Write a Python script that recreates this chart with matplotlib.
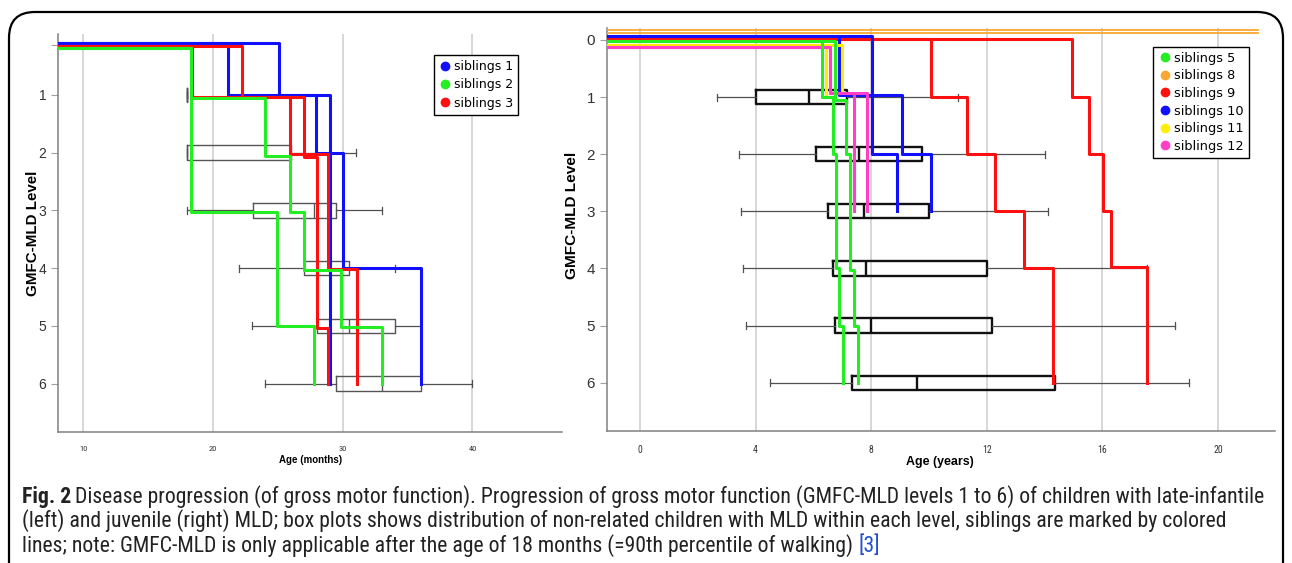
import matplotlib
matplotlib.use('Agg')
import matplotlib.pyplot as plt
from matplotlib.lines import Line2D
from matplotlib.patches import FancyBboxPatch
from matplotlib import font_manager
from matplotlib.font_manager import FontProperties

# ---------------- data ----------------
levels = [1, 2, 3, 4, 5, 6]

# left panel: late-infantile, age in months (box plots of non-related children)
m_lo  = [18, 18, 18, 22.0, 23.0, 24.0]
m_q1  = [18, 18, 23.05, 27.0, 28.0, 29.5]
m_med = [18, 18, 27.75, 29.0, 30.5, 33.0]
m_q3  = [18, 26.0, 29.5, 30.5, 34.0, 36.0]
m_hi  = [18, 31.0, 33.0, 34.0, 36.0, 40.0]

# right panel: juvenile, age in years
y_lo  = [2.68, 3.43, 3.5, 3.58, 3.66, 4.5]
y_q1  = [4.0, 6.08, 6.49, 6.67, 6.75, 7.34]
y_med = [5.84, 7.59, 7.76, 7.82, 8.0, 9.58]
y_q3  = [7.17, 9.76, 10.0, 12.0, 12.17, 14.35]
y_hi  = [11.0, 14.0, 14.1, 17.53, 18.5, 19.0]

M0 = 8.05    # left axis start (months), sibling lines begin there
Y0 = -1.15   # right axis start (years)

# siblings: each child = ages at which the level changes, and the levels
sib1_ages = [[M0, 21.15, 27.9, 30.0, 36.0], [M0, 25.05, 29.0]]
sib1_lvls = [[0.10, 1.0, 2.0, 4.0, 6.0], [0.10, 1.0, 6.0]]
sib2_ages = [[M0, 18.3, 24.0, 25.9, 27.0, 29.85, 33.0], [M0, 18.3, 24.9, 27.8]]
sib2_lvls = [[0.185, 1.05, 2.05, 3.03, 4.03, 5.02, 6.0], [0.185, 3.02, 5.0, 6.0]]
sib3_ages = [[M0, 18.4, 25.9, 28.9, 31.1], [M0, 22.2, 27.0, 28.0, 28.85]]
sib3_lvls = [[0.146, 1.04, 2.02, 4.02, 6.0], [0.146, 1.04, 2.07, 5.03, 6.0]]

sib5_ages = [[Y0, 6.31, 6.69, 6.77, 6.9, 7.01], [Y0, 6.75, 7.13, 7.27, 7.4, 7.55]]
sib5_lvls = [[0.02, 1.0, 2.0, 4.0, 5.0, 6.0], [0.02, 1.05, 2.0, 4.02, 5.0, 6.0]]
sib8_ages = [[Y0, 21.37], [Y0, 21.37]]
sib8_lvls = [[-0.17, -0.17], [-0.12, -0.12]]
sib9_ages = [[Y0, 10.07, 11.3, 12.28, 13.3, 14.28], [Y0, 14.95, 15.52, 16.02, 16.29, 17.55]]
sib9_lvls = [[-0.02, 1.0, 2.0, 3.0, 4.0, 6.0], [-0.02, 1.0, 2.0, 3.0, 3.98, 6.0]]
sib10_ages = [[Y0, 6.89, 9.05, 10.07], [Y0, 8.02, 8.88]]
sib10_lvls = [[-0.065, 0.97, 2.0, 3.0], [-0.065, 2.0, 3.0]]
sib11_ages = [[Y0, 6.98], [Y0, 6.42]]
sib11_lvls = [[0.08, 0.9], [0.08, 1.0]]
sib12_ages = [[Y0, 6.57, 7.87], [Y0, 6.57, 7.4]]
sib12_lvls = [[0.12, 0.93, 3.0], [0.12, 0.93, 3.0]]

caption1 = ("Disease progression (of gross motor function). Progression of gross motor function "
            "(GMFC-MLD levels 1 to 6) of children with late-infantile")
caption2 = ("(left) and juvenile (right) MLD; box plots shows distribution of non-related children "
            "with MLD within each level, siblings are marked by colored")
caption3 = "lines; note: GMFC-MLD is only applicable after the age of 18 months (=90th percentile of walking) "


# ---------------- fonts: look for a narrow sans ----------------
def wnum(w):
    return w if isinstance(w, int) else font_manager.weight_dict.get(w, 400)


def narrow_font(bold):
    prefer = ['Liberation Sans Narrow', 'Roboto Condensed', 'Open Sans Condensed',
              'Noto Sans', 'Open Sans', 'Roboto', 'DejaVu Sans']
    best = None
    for f in font_manager.fontManager.ttflist:
        if f.style != 'normal':
            continue
        if f.stretch not in ('condensed', 'semi-condensed') and 'Narrow' not in f.name \
                and 'Condensed' not in f.name:
            continue
        if (wnum(f.weight) >= 600) != bold or wnum(f.weight) in (300, 500, 800, 900):
            continue
        rank = prefer.index(f.name) if f.name in prefer else len(prefer)
        if best is None or rank < best[0]:
            best = (rank, f.fname)
    if best:
        return FontProperties(fname=best[1])
    return FontProperties(family='Liberation Sans', weight='bold' if bold else 'normal')


FP = narrow_font(False)
FPB = narrow_font(True)
ARIALB = FontProperties(family='Liberation Sans', weight='bold')


def fp(base, size):
    p = base.copy()
    p.set_size(size)
    return p


BLUE, GREEN, RED = '#1010ff', '#22ee22', '#ff1010'
ORANGE, YELLOW, PINK = '#f8a832', '#ffee00', '#ff3fc8'

W, H = 1292, 563
fig = plt.figure(figsize=(W / 100, H / 100), dpi=100)


def px_axes(x0, y0, x1, y1):
    return fig.add_axes([x0 / W, 1 - y1 / H, (x1 - x0) / W, (y1 - y0) / H])


def style(ax, xt, xfs, yfs):
    for s in ['top', 'right']:
        ax.spines[s].set_visible(False)
    for s in ['left', 'bottom']:
        ax.spines[s].set_color('#808080')
        ax.spines[s].set_linewidth(1.1)
    ax.set_xticks(xt)
    ax.tick_params(axis='x', length=0, labelcolor='#333333', pad=10)
    ax.tick_params(axis='y', length=5, color='#a0a0a0', labelsize=yfs, labelcolor='#333333')
    for lab in ax.get_xticklabels():
        lab.set_fontproperties(fp(FP, xfs))
    for lab in ax.get_yticklabels():
        lab.set_fontfamily('Liberation Sans')
    ax.grid(axis='x', color='#d4d4d4', lw=1.3)
    ax.set_axisbelow(True)


def boxes(ax, lo, q1, med, q3, hi, color, lw):
    stats = [dict(whislo=a, q1=b, med=c, q3=d, whishi=e)
             for a, b, c, d, e in zip(lo, q1, med, q3, hi)]
    ax.bxp(stats, positions=levels, widths=0.25, orientation='horizontal',
           showfliers=False, manage_ticks=False, capwidths=0.12,
           boxprops=dict(color=color, lw=lw),
           medianprops=dict(color=color, lw=lw),
           whiskerprops=dict(color='#505050', lw=0.9),
           capprops=dict(color='#505050', lw=0.9))


def draw_sibs(ax, ages, lvls, color, lw=2.2):
    for a, l in zip(ages, lvls):
        ax.step(a, l, where='post', color=color, lw=lw, zorder=3)


# ---------------- left panel ----------------
axL = px_axes(58, 34, 562, 432)
axL.set_xlim(M0, 46.9)
axL.set_ylim(6.84, -0.057)
axL.set_yticks([0.13] + levels)
axL.set_yticklabels([''] + [str(v) for v in levels])
style(axL, [10, 20, 30, 40], 6, 10)
boxes(axL, m_lo, m_q1, m_med, m_q3, m_hi, '#555555', 1.0)
draw_sibs(axL, sib1_ages, sib1_lvls, BLUE)
draw_sibs(axL, sib3_ages, sib3_lvls, RED)
draw_sibs(axL, sib2_ages, sib2_lvls, GREEN)
xlabL = axL.set_xlabel('Age (months)', fontproperties=fp(ARIALB, 8))
axL.xaxis.set_label_coords(0.502, -0.058)
ylabL = axL.set_ylabel('GMFC-MLD Level', fontproperties=fp(ARIALB, 9))
axL.yaxis.set_label_coords(-0.036, 0.5)

hL = [Line2D([], [], marker='o', ls='none', color=c, markersize=6) for c in [BLUE, GREEN, RED]]
legL = axL.legend(hL, ['siblings 1', 'siblings 2', 'siblings 3'], loc='upper left',
                  bbox_to_anchor=(0.746, 0.947), borderaxespad=0, fancybox=False,
                  edgecolor='black', framealpha=1, fontsize=9, handletextpad=0.2,
                  handlelength=1.0, labelspacing=0.42, borderpad=0.4)
legL.get_frame().set_linewidth(1.0)

# ---------------- right panel ----------------
axR = px_axes(606.7, 28, 1275, 430.7)
axR.set_xlim(Y0, 21.97)
axR.set_ylim(6.84, -0.21)
axR.set_yticks([0] + levels)
axR.set_yticklabels([str(v) for v in [0] + levels])
style(axR, [0, 4, 8, 12, 16, 20], 7, 11)
boxes(axR, y_lo, y_q1, y_med, y_q3, y_hi, '#111111', 1.7)
draw_sibs(axR, sib8_ages, sib8_lvls, ORANGE, lw=1.3)
draw_sibs(axR, sib9_ages, sib9_lvls, RED)
draw_sibs(axR, sib10_ages, sib10_lvls, BLUE)
draw_sibs(axR, sib11_ages, sib11_lvls, YELLOW)
draw_sibs(axR, sib12_ages, sib12_lvls, PINK)
draw_sibs(axR, sib5_ages, sib5_lvls, GREEN)
xlabR = axR.set_xlabel('Age (years)', fontproperties=fp(ARIALB, 10))
axR.xaxis.set_label_coords(0.499, -0.064)
ylabR = axR.set_ylabel('GMFC-MLD Level', fontproperties=fp(ARIALB, 9.5))
axR.yaxis.set_label_coords(-0.041, 0.535)

hR = [Line2D([], [], marker='o', ls='none', color=c, markersize=6)
      for c in [GREEN, ORANGE, RED, BLUE, YELLOW, PINK]]
legR = axR.legend(hR, ['siblings 5', 'siblings 8', 'siblings 9', 'siblings 10', 'siblings 11',
                       'siblings 12'], loc='upper left', bbox_to_anchor=(0.818, 0.954),
                  borderaxespad=0, fancybox=False, edgecolor='black', framealpha=1,
                  fontsize=9.3, handletextpad=0.2, handlelength=1.0, labelspacing=0.36,
                  borderpad=0.4)
legR.get_frame().set_linewidth(1.0)

# ---------------- frame ----------------
frame = FancyBboxPatch((9 / W, -0.2), (1283 - 9) / W, 1.2 - 12 / H,
                       boxstyle='round,pad=0,rounding_size=0.02', transform=fig.transFigure,
                       fill=False, edgecolor='black', lw=1.6, mutation_aspect=W / H)
fig.patches.append(frame)

fig.canvas.draw()
r = fig.canvas.get_renderer()

# fit axis-title sizes to the lengths seen in the figure
for lab, target, vertical in [(xlabL, 63, False), (xlabR, 68, False),
                              (ylabL, 125, True), (ylabR, 128, True)]:
    bb = lab.get_window_extent(r)
    cur = bb.height if vertical else bb.width
    lab.set_fontsize(lab.get_fontsize() * target / cur)


def caption(fs):
    arts = []
    x = 22
    kw = dict(va='center', color='#222222')
    t = fig.text(x / W, 1 - 497 / H, 'Fig. 2', fontproperties=fp(FPB, fs), **kw)
    arts.append(t)
    bb = t.get_window_extent(r)
    t1 = fig.text((bb.x1 + 4) / W, 1 - 497 / H, caption1, fontproperties=fp(FP, fs), **kw)
    t2 = fig.text(x / W, 1 - 521 / H, caption2, fontproperties=fp(FP, fs), **kw)
    t3 = fig.text(x / W, 1 - 546 / H, caption3, fontproperties=fp(FP, fs), **kw)
    arts += [t1, t2, t3]
    b3 = t3.get_window_extent(r)
    t4 = fig.text(b3.x1 / W, 1 - 546 / H, '[3]', fontproperties=fp(FP, fs),
                  va='center', color='#1f4fd0')
    arts.append(t4)
    return arts, t1.get_window_extent(r).x1


arts, right = caption(12.5)
fs = 12.5 * (1279 - 22) / (right - 22)
for a in arts:
    a.remove()
caption(fs)

fig.savefig('out.png', dpi=100)
